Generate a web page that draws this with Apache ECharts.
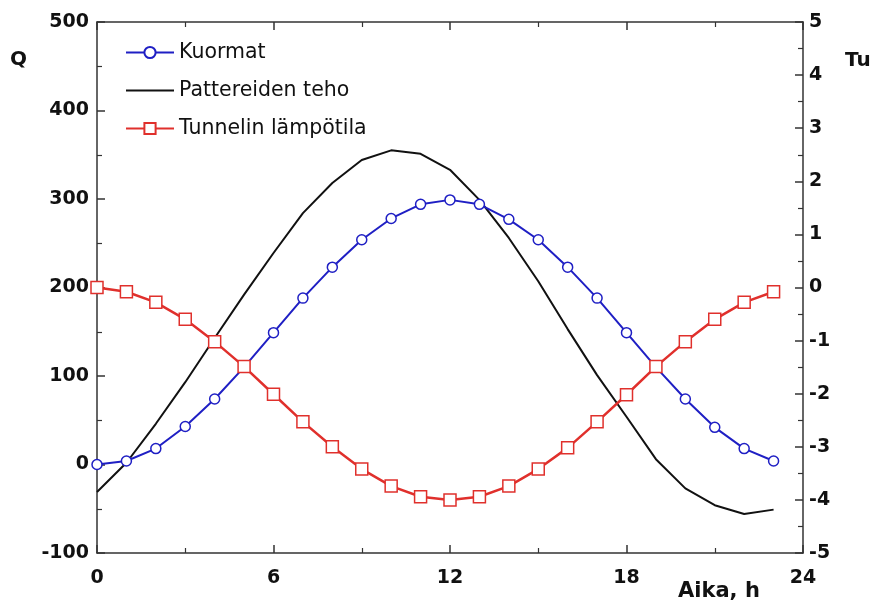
<!DOCTYPE html>
<html>
<head>
<meta charset="utf-8">
<script src="https://cdn.jsdelivr.net/npm/echarts@6/dist/echarts.min.js"></script>
<style>html,body{margin:0;padding:0;background:#fff}#c{width:877px;height:606px}</style>
</head>
<body>
<div id="c"></div>
<script>
const hours = [0,1,2,3,4,5,6,7,8,9,10,11,12,13,14,15,16,17,18,19,20,21,22,23];
const kuormat = [0,4,18,43,74,110,149,188,223,254,278,294,299,294,277,254,223,188,149,110,74,42,18,4];
const teho = [-31,2,46,93,143,192,239,284,318,344,355,351,333,299,256,207,153,101,54,6,-27,-46,-56,-51];
const tunneli = [0,-0.08,-0.28,-0.6,-1.02,-1.49,-2.01,-2.53,-3.0,-3.42,-3.74,-3.94,-4.0,-3.94,-3.74,-3.42,-3.02,-2.53,-2.02,-1.49,-1.02,-0.6,-0.28,-0.08];
const seriesNames = ['Kuormat','Pattereiden teho','Tunnelin lämpötila'];
const leftTitle = 'Q', rightTitle = 'Tu', xTitle = 'Aika, h';

const pair = (arr) => hours.map((h,i) => [h, arr[i]]);
const FONT = 'DejaVu Sans';
const axisLineStyle = {color:'#333', width:1.5};
const tickLabel = {fontFamily:FONT, fontWeight:'bold', fontSize:19, color:'#111'};
const minor = {show:true, splitNumber:2, length:5, lineStyle:{color:'#333', width:1.2}};
const tick = {show:true, inside:true, length:8, lineStyle:axisLineStyle};
const line = {show:true, onZero:false, lineStyle:axisLineStyle};

const chart = echarts.init(document.getElementById('c'), null, {renderer:'canvas'});
chart.setOption({
  animation:false,
  backgroundColor:'#fff',
  grid:{left:97, right:74, top:22, bottom:53, containLabel:false},
  legend:{
    orient:'vertical', left:125, top:42, padding:0, itemWidth:48, itemHeight:14, itemGap:17,
    textStyle:{fontFamily:FONT, fontSize:20.5, color:'#111'},
    data:[
      seriesNames[0],
      {name:seriesNames[1], itemStyle:{color:'rgba(0,0,0,0)', borderColor:'rgba(0,0,0,0)', borderWidth:0}},
      seriesNames[2]
    ]
  },
  xAxis:[
    {type:'value', position:'bottom', min:0, max:24, interval:6,
     axisLine:line, axisTick:tick, minorTick:minor, splitLine:{show:false},
     axisLabel:Object.assign({margin:16}, tickLabel)},
    {type:'value', position:'top', min:0, max:24, interval:6,
     axisLine:line, axisTick:tick, minorTick:minor, splitLine:{show:false}, axisLabel:{show:false}}
  ],
  yAxis:[
    {type:'value', position:'left', min:-100, max:500, interval:100,
     axisLine:line, axisTick:tick, minorTick:minor, splitLine:{show:false},
     axisLabel:Object.assign({margin:8}, tickLabel)},
    {type:'value', position:'right', min:-5, max:5, interval:1,
     axisLine:line, axisTick:tick, minorTick:minor, splitLine:{show:false},
     axisLabel:Object.assign({margin:6}, tickLabel)}
  ],
  graphic:[
    {type:'text', left:10, top:50, style:{text:leftTitle, font:'bold 20px "DejaVu Sans"', fill:'#111'}},
    {type:'text', left:845, top:51, style:{text:rightTitle, font:'bold 20px "DejaVu Sans"', fill:'#111'}},
    {type:'text', left:678, top:581, style:{text:xTitle, font:'bold 21px "DejaVu Sans"', fill:'#111'}}
  ],
  series:[
    {name:seriesNames[0], type:'line', xAxisIndex:0, yAxisIndex:0, data:pair(kuormat),
     symbol:'circle', symbolSize:10, showSymbol:true,
     lineStyle:{color:'#1f1fc4', width:2}, itemStyle:{color:'#fff', borderColor:'#1f1fc4', borderWidth:1.5}, z:3},
    {name:seriesNames[1], type:'line', xAxisIndex:0, yAxisIndex:0, data:pair(teho),
     symbol:'none', lineStyle:{color:'#111', width:2}, itemStyle:{color:'#111'}, z:2},
    {name:seriesNames[2], type:'line', xAxisIndex:0, yAxisIndex:1, data:pair(tunneli),
     symbol:'rect', symbolSize:12, showSymbol:true,
     lineStyle:{color:'#e0302c', width:2.5}, itemStyle:{color:'#fff', borderColor:'#e0302c', borderWidth:1.5}, z:4}
  ]
});
</script>
</body>
</html>
